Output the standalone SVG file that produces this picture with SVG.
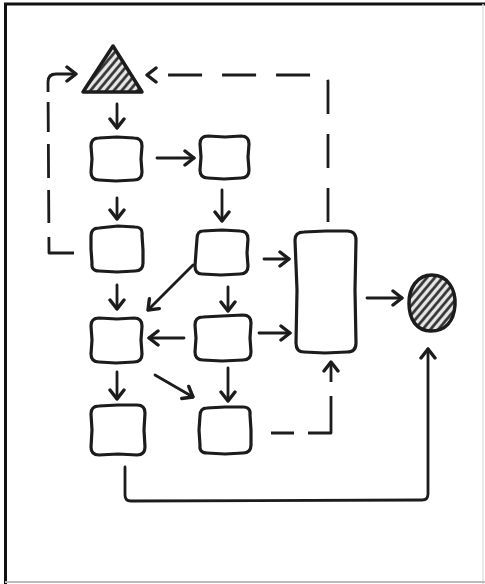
<svg xmlns="http://www.w3.org/2000/svg" width="485" height="584" viewBox="0 0 485 584">
<defs>
<style>
.node{fill:#fff;stroke:#1c1c1c;stroke-width:3.2;stroke-linejoin:round;stroke-linecap:round}
.hatched{fill:url(#hatch);stroke:#1c1c1c;stroke-width:3.5;stroke-linejoin:round}
.edge{fill:none;stroke:#1c1c1c;stroke-width:2.8;stroke-linecap:round;stroke-linejoin:round}
.arrow{marker-end:url(#ah)}
</style>
<pattern id="hatch" patternUnits="userSpaceOnUse" width="6" height="6" patternTransform="rotate(40)">
<rect width="6" height="6" fill="#e6e6e6"/>
<line x1="1.5" y1="0" x2="1.5" y2="6" stroke="#2a2a2a" stroke-width="2.6"/>
</pattern>
<marker id="ah" markerUnits="userSpaceOnUse" viewBox="-12 -10 14 20" refX="0" refY="0" markerWidth="14" markerHeight="20" orient="auto">
<path d="M-9,-7 L0,0 L-9,7" fill="none" stroke="#1c1c1c" stroke-width="3.4" stroke-linecap="round" stroke-linejoin="round" stroke-dasharray="none"/>
</marker>
</defs>
<rect width="485" height="584" fill="#fff"/>
<line x1="5.5" y1="3" x2="5.5" y2="584" stroke="#111" stroke-width="3"/>
<line x1="4" y1="4" x2="485" y2="4" stroke="#111" stroke-width="3"/>
<line x1="483" y1="4" x2="483" y2="584" stroke="#e2e2e2" stroke-width="1.5"/>
<line x1="5" y1="582" x2="485" y2="582" stroke="#bbb" stroke-width="2"/>

<g id="connectors">
<path class="edge arrow" d="M117,104 L117,128"/>
<path class="edge arrow" d="M157,158 L194,158"/>
<path class="edge arrow" d="M117,198 L117,219"/>
<path class="edge arrow" d="M222,190 L222,221"/>
<path class="edge arrow" style="stroke-dasharray:41 14 33 12 34 12 30 10 60;stroke-linecap:butt" d="M74,253 L49,253 L48,82 Q48,74 56,74 L76,74"/>
<path class="edge arrow" style="stroke-dasharray:34 20;stroke-linecap:butt" d="M328,222 L328,82 Q328,75 321,75 L147,75"/>
<path class="edge arrow" d="M264,259 L289,259"/>
<path class="edge arrow" d="M193,265 L148,310"/>
<path class="edge arrow" d="M117,285 L117,309"/>
<path class="edge arrow" d="M228,287 L228,311"/>
<path class="edge arrow" d="M184,338 L149,338"/>
<path class="edge arrow" d="M259,333 L290,333"/>
<path class="edge arrow" d="M367,298 L402,298"/>
<path class="edge arrow" d="M117,372 L117,399"/>
<path class="edge arrow" d="M155,375 L193,397"/>
<path class="edge arrow" d="M228,368 L228,401"/>
<path class="edge arrow" style="stroke-dasharray:23 14 60 14 24;stroke-linecap:butt" d="M271,433 L331,433 L331,362"/>
<path class="edge arrow" d="M125,467 L125,495 Q125,501 131,501 L422,500 Q428,500 428,494 L428,349"/>
</g>

<g id="start"><path class="hatched" d="M113,46 L142,92 L83,92 Z"/></g>
<g id="box-a"><path class="node" d="M99,138 L117,137 L134,138 Q142,138 142,146 L141,159 L142,172 Q142,180 134,180 L116,181 L99,180 Q91,180 91,172 L92,159 L91,146 Q91,138 99,138 Z"/></g>
<g id="box-b"><path class="node" d="M208,136 L225,137 L241,136 Q249,136 249,144 L248,157 L249,170 Q249,178 241,178 L224,179 L208,178 Q200,178 200,170 L201,157 L200,144 Q200,136 208,136 Z"/></g>
<g id="box-c"><path class="node" d="M99,228 L118,226 L135,227 Q143,227 142,235 L143,250 L143,263 Q143,271 135,271 L117,272 L99,271 Q91,271 92,263 L91,249 L91,236 Q91,228 99,228 Z"/></g>
<g id="box-d"><path class="node" d="M203,231 L222,230 L240,231 Q248,231 248,239 L247,253 L248,266 Q248,274 240,274 L221,275 L202,274 Q195,274 195,266 L196,252 L197,239 Q197,231 203,231 Z"/></g>
<g id="box-e"><path class="node" d="M99,318 L117,319 L134,318 Q142,318 142,326 L141,340 L142,354 Q142,362 134,362 L116,363 L99,362 Q91,362 91,354 L92,340 L91,326 Q91,318 99,318 Z"/></g>
<g id="box-f"><path class="node" d="M203,317 L222,316 L243,315 Q251,315 251,323 L250,338 L251,352 Q251,360 243,360 L222,361 L203,360 Q195,360 195,352 L196,338 L195,325 Q195,317 203,317 Z"/></g>
<g id="box-g"><path class="node" d="M99,406 L118,405 L137,405 Q145,405 145,413 L144,430 L145,447 Q145,455 137,455 L118,454 L99,455 Q91,455 91,447 L92,430 L91,414 Q91,406 99,406 Z"/></g>
<g id="box-h"><path class="node" d="M207,408 L225,407 L243,407 Q251,407 250,415 L251,430 L251,445 Q251,453 243,453 L225,454 L207,453 Q199,453 200,445 L199,430 L200,416 Q200,408 207,408 Z"/></g>
<g id="box-tall"><path class="node" d="M304,232 L326,231 L347,231 Q356,231 356,240 L355,290 L356,343 Q356,352 347,352 L325,353 L304,352 Q296,352 296,343 L297,290 L295,240 Q295,232 304,232 Z"/></g>
<g id="end"><path class="hatched" d="M432,275 C448,275 456,290 455,305 C454,322 445,331 431,331 C417,331 409,320 409,303 C409,288 417,275 432,275 Z"/></g>
</svg>
